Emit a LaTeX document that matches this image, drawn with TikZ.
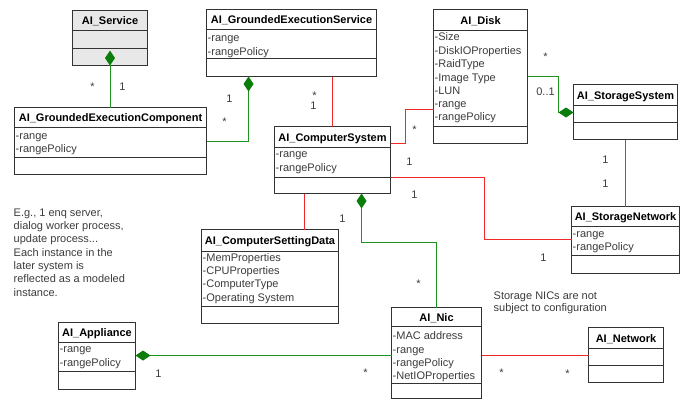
\documentclass[tikz,border=0pt]{standalone}
\usepackage{fontspec}
\setmainfont{Liberation Sans}
\usetikzlibrary{arrows.meta}
\definecolor{boxline}{HTML}{333333}
\definecolor{attrc}{HTML}{3C3C3C}
\definecolor{lgreen}{HTML}{1F951F}
\definecolor{dgreen}{HTML}{0A7D0A}
\definecolor{lred}{HTML}{F02828}
\definecolor{svcfill}{HTML}{E8E8E8}
\tikzset{
  cbox/.style={draw=boxline, line width=1pt, inner sep=0pt, outer sep=0pt, anchor=north west},
  cline/.style={draw=boxline, line width=1pt},
  ctitle/.style={font=\fontsize{11}{13}\selectfont\bfseries, inner sep=0pt, anchor=base},
  cattr/.style={font=\fontsize{11}{13}\selectfont, text=attrc, inner sep=0pt, anchor=base west},
  gconn/.style={draw=lgreen, line width=1pt},
  rconn/.style={draw=lred, line width=1pt},
  compstart/.style={{Diamond[length=15pt,width=10pt,color=dgreen]}-},
  compend/.style={-{Diamond[length=15pt,width=10pt,color=dgreen]}},
  mult/.style={font=\fontsize{11}{13}\selectfont, text=attrc, inner sep=0pt},
  note/.style={font=\fontsize{11}{13.3}\selectfont, text=attrc, inner sep=0pt, align=left, anchor=north west},
}
% #1 fill, #2 name, #3 x1, #4 y1, #5 x2, #6 y2, #7 header bottom, #8 separator
\newcommand\umlclass[8][white]{%
  \node[cbox, fill=#1, minimum width={#5-#3}, minimum height={#6-#4}] (#2) at (#3,#4) {};
  \draw[cline] (#3,#7) -- (#5,#7);
  \draw[cline] (#3,#8) -- (#5,#8);
}
\begin{document}
\begin{tikzpicture}[x=1pt,y=-1pt]
\useasboundingbox (-0.5,-0.5) rectangle (694.5,399.5);

% ---------- classes ----------
\umlclass[svcfill]{svc}{72}{10}{147}{65}{30}{48}
\node[ctitle] (svc-t) at (109.5,24) {AI\_Service};

\umlclass{ges}{206}{9}{376}{76}{29}{58}
\node[ctitle] (ges-t) at (291,23) {AI\_GroundedExecutionService};
\node[cattr] (ges-a1) at (207,41) {-range};
\node[cattr] (ges-a2) at (207,55) {-rangePolicy};

\umlclass{gec}{14}{107}{206}{174}{127}{157}
\node[ctitle] (gec-t) at (110,121) {AI\_GroundedExecutionComponent};
\node[cattr] (gec-a1) at (15,139) {-range};
\node[cattr] (gec-a2) at (15,152) {-rangePolicy};

\umlclass{cs}{274}{126}{390}{193}{147}{177}
\node[ctitle] (cs-t) at (332,140.5) {AI\_ComputerSystem};
\node[cattr] (cs-a1) at (275,157) {-range};
\node[cattr] (cs-a2) at (275,171) {-rangePolicy};

\umlclass{disk}{433}{9}{527}{143}{30}{126}
\node[ctitle] (disk-t) at (480,23.5) {AI\_Disk};
\node[cattr] (disk-a1) at (434,40) {-Size};
\node[cattr] (disk-a2) at (434,54) {-DiskIOProperties};
\node[cattr] (disk-a3) at (434,67) {-RaidType};
\node[cattr] (disk-a4) at (434,81) {-Image Type};
\node[cattr] (disk-a5) at (434,94) {-LUN};
\node[cattr] (disk-a6) at (434,107) {-range};
\node[cattr] (disk-a7) at (434,120) {-rangePolicy};

\umlclass{ss}{573}{84}{677}{139}{105}{122}
\node[ctitle] (ss-t) at (625,98.5) {AI\_StorageSystem};

\umlclass{sn}{571}{206}{679}{273}{226}{255}
\node[ctitle] (sn-t) at (625,220) {AI\_StorageNetwork};
\node[cattr] (sn-a1) at (572,237) {-range};
\node[cattr] (sn-a2) at (572,250) {-rangePolicy};

\umlclass{csd}{201}{229}{338}{323}{251}{306}
\node[ctitle] (csd-t) at (269.5,244) {AI\_ComputerSettingData};
\node[cattr] (csd-a1) at (202,261) {-MemProperties};
\node[cattr] (csd-a2) at (202,274) {-CPUProperties};
\node[cattr] (csd-a3) at (202,287) {-ComputerType};
\node[cattr] (csd-a4) at (202,301) {-Operating System};

\umlclass{app}{58}{322}{135}{389}{342}{371}
\node[ctitle] (app-t) at (96.5,336) {AI\_Appliance};
\node[cattr] (app-a1) at (59,352) {-range};
\node[cattr] (app-a2) at (59,366) {-rangePolicy};

\umlclass{nic}{391}{307}{481}{398}{326}{383}
\node[ctitle] (nic-t) at (436,320.5) {AI\_Nic};
\node[cattr] (nic-a1) at (392,339) {-MAC address};
\node[cattr] (nic-a2) at (392,352.5) {-range};
\node[cattr] (nic-a3) at (392,365.5) {-rangePolicy};
\node[cattr] (nic-a4) at (392,379) {-NetIOProperties};

\umlclass{net}{588}{327}{663}{382}{348}{365}
\node[ctitle] (net-t) at (625.5,341.5) {AI\_Network};

% ---------- connectors ----------
\draw[gconn, compstart] ([yshift=15pt]svc.south) -- (svc.south |- gec.north);
\draw[gconn, compstart] (ges.south -| 248,0) -- (248,141) -- (gec.east |- 0,141);
\draw[rconn] (ges.south -| 332,0) -- (cs.north -| 332,0);
\draw[rconn] (cs.east |- 0,143) -- (405,143) -- (405,109) -- (disk.west |- 0,109);
\draw[gconn, compend] (disk.east |- 0,76) -- (558,76) -- (558,112) -- (ss.west |- 0,112);
\draw[rconn] (ss.south -| 625,0) -- (sn.north -| 625,0);
\draw[rconn] (cs.east |- 0,177) -- (484,177) -- (484,239) -- (sn.west |- 0,239);
\draw[rconn] (cs.south -| 304,0) -- (csd.north -| 304,0);
\draw[gconn, compstart] (cs.south -| 361,0) -- (361,242) -- (436,242) -- (nic.north -| 436,0);
\draw[gconn, compstart] (app.east |- 0,355) -- (nic.west |- 0,355);
\draw[rconn] (nic.east |- 0,355) -- (net.west |- 0,355);

% ---------- multiplicities ----------
\node[mult] (m1) at (92,86.5) {*};
\node[mult] (m2) at (122,86) {1};
\node[mult] (m3) at (229,98) {1};
\node[mult] (m4) at (224,121.5) {*};
\node[mult] (m5) at (314,95) {*};
\node[mult] (m6) at (313,105.5) {1};
\node[mult] (m7) at (414,129.5) {*};
\node[mult] (m8) at (409,161) {1};
\node[mult] (m9) at (414,194) {1};
\node[mult] (m10) at (543,257) {1};
\node[mult] (m11) at (545,56.5) {*};
\node[mult] (m12) at (545,91) {0..1};
\node[mult] (m13) at (605,159) {1};
\node[mult] (m14) at (605,183) {1};
\node[mult] (m15) at (342,218) {1};
\node[mult] (m16) at (418,283.5) {*};
\node[mult] (m17) at (158,373) {1};
\node[mult] (m18) at (365,372.5) {*};
\node[mult] (m19) at (501,372.5) {*};
\node[mult] (m20) at (567,373.5) {*};

% ---------- notes ----------
\node[note] (note1) at (13,208) {E.g., 1 enq server,\\dialog worker process,\\update process...\\Each instance in the\\later system is\\reflected as a modeled\\instance.};
\node[note, font=\fontsize{11}{12.5}\selectfont] (note2) at (493,291) {Storage NICs are not\\subject to configuration};
\end{tikzpicture}
\end{document}
